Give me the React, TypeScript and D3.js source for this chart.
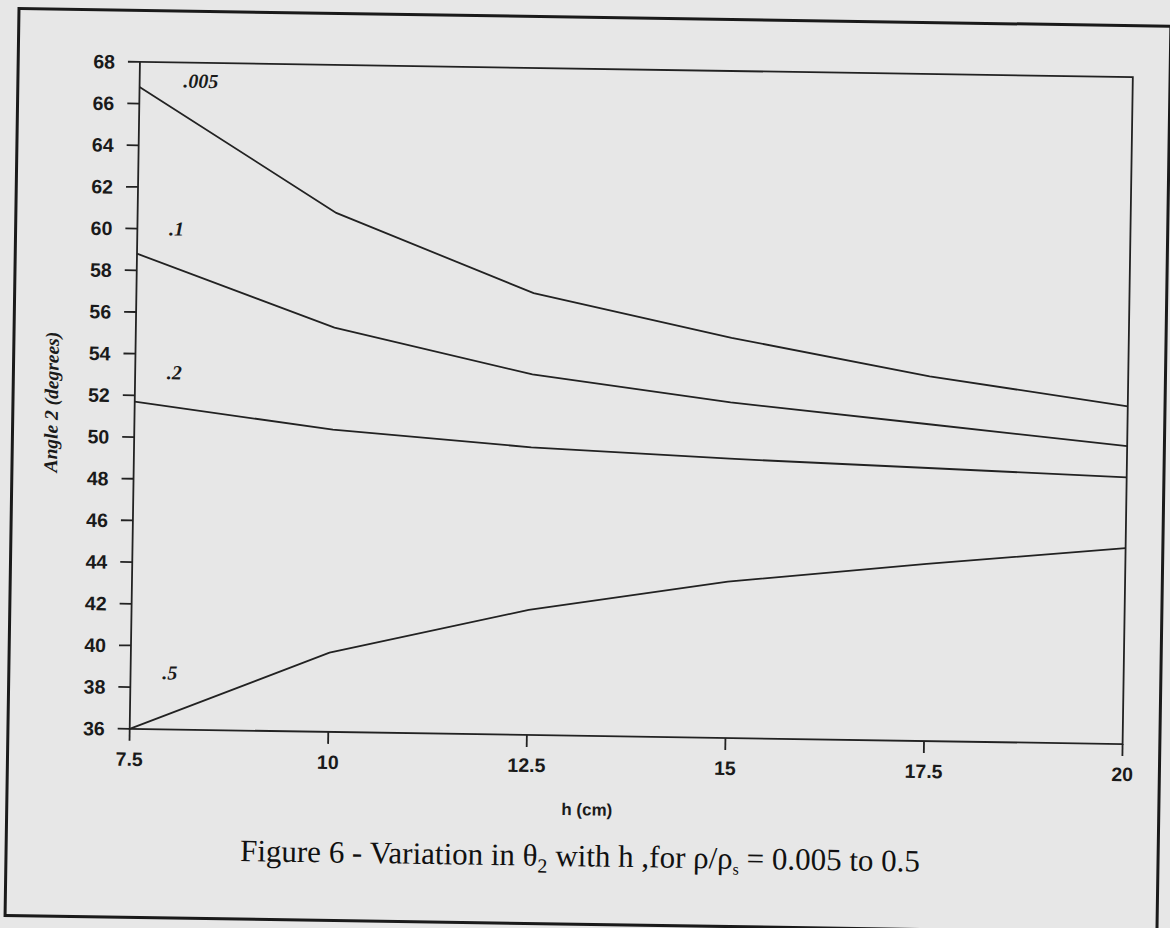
import React from "react";
import * as d3 from "d3";

const hValues = [7.5, 10, 12.5, 15, 17.5, 20];
const s005 = [66.8, 60.9, 57.2, 55.2, 53.5, 52.2];
const s1 = [58.8, 55.4, 53.3, 52.1, 51.2, 50.3];
const s2 = [51.7, 50.5, 49.8, 49.4, 49.1, 48.8];
const s5 = [36.0, 39.8, 42.0, 43.5, 44.5, 45.4];
const seriesNames = [".005", ".1", ".2", ".5"];
const seriesData = [s005, s1, s2, s5];
const labelH = [8.05, 7.9, 7.9, 7.9];
const labelV = [66.8, 59.7, 52.8, 38.4];
const xTicks = [7.5, 10, 12.5, 15, 17.5, 20];
const xTickLabels = ["7.5", "10", "12.5", "15", "17.5", "20"];
const yTicks = [36, 38, 40, 42, 44, 46, 48, 50, 52, 54, 56, 58, 60, 62, 64, 66, 68];

const W = 1170;
const H = 928;
const L = 134.75, R = 1127.75, T = 69.5, B = 736.5;
const ANG = 0.88;
const CX = 631, CY = 404;

export default function App() {
  const x = d3.scaleLinear().domain([7.5, 20]).range([L, R]);
  const y = d3.scaleLinear().domain([36, 68]).range([B, T]);
  const line = d3
    .line<number>()
    .x((_, i) => x(hValues[i]))
    .y((d) => y(d));
  const ink = "#222";
  const sans = "'Liberation Sans', Arial, sans-serif";
  const serif = "'Liberation Serif', 'Times New Roman', serif";
  return (
    <svg
      width={W}
      height={H}
      style={{ position: "absolute", left: 0, top: 0, display: "block" }}
    >
      <rect x={0} y={0} width={W} height={H} fill="#e7e7e7" />
      <g transform={`rotate(${ANG}, ${CX}, ${CY})`}>
        <rect x={13} y={18} width={1152} height={907} fill="none" stroke="#1a1a1a" strokeWidth={3} />
        <rect x={L} y={T} width={R - L} height={B - T} fill="none" stroke={ink} strokeWidth={1.8} />
        {yTicks.map((t) => (
          <g key={"y" + t}>
            <line x1={L - 12} x2={L} y1={y(t)} y2={y(t)} stroke={ink} strokeWidth={1.8} />
            <text
              x={L - 25}
              y={y(t)}
              dy="0.36em"
              textAnchor="end"
              fontFamily={sans}
              fontWeight="bold"
              fontSize={19.5}
              fill="#1a1a1a"
            >
              {t}
            </text>
          </g>
        ))}
        {xTicks.map((t, i) => (
          <g key={"x" + t}>
            <line x1={x(t)} x2={x(t)} y1={B} y2={B + 12} stroke={ink} strokeWidth={1.8} />
            <text
              x={x(t)}
              y={B + 37}
              textAnchor="middle"
              fontFamily={sans}
              fontWeight="bold"
              fontSize={19.5}
              fill="#1a1a1a"
            >
              {xTickLabels[i]}
            </text>
          </g>
        ))}
        {seriesData.map((s, i) => (
          <path key={"s" + i} d={line(s) || ""} fill="none" stroke={ink} strokeWidth={1.8} />
        ))}
        {seriesNames.map((n, i) => (
          <text
            key={"l" + i}
            x={x(labelH[i])}
            y={y(labelV[i])}
            fontFamily={serif}
            fontStyle="italic"
            fontWeight="bold"
            fontSize={20}
            fill="#1a1a1a"
          >
            {n}
          </text>
        ))}
        <text
          x={593}
          y={816}
          textAnchor="middle"
          fontFamily={sans}
          fontWeight="bold"
          fontSize={17}
          fill="#1a1a1a"
        >
          h (cm)
        </text>
        <text
          transform={`translate(58, 411) rotate(-90)`}
          textAnchor="middle"
          fontFamily={serif}
          fontStyle="italic"
          fontWeight="bold"
          fontSize={19.5}
          fill="#1a1a1a"
        >
          Angle  2 (degrees)
        </text>
        <text
          x={587}
          y={867}
          textAnchor="middle"
          fontFamily={serif}
          fontSize={31}
          fill="#111"
        >
          Figure 6 - Variation in θ
          <tspan fontSize={20} dy={7}>2</tspan>
          <tspan dy={-7}> with h ,for ρ/ρ</tspan>
          <tspan fontSize={16} dy={6}>s</tspan>
          <tspan dy={-6}> = 0.005 to 0.5</tspan>
        </text>
      </g>
    </svg>
  );
}
